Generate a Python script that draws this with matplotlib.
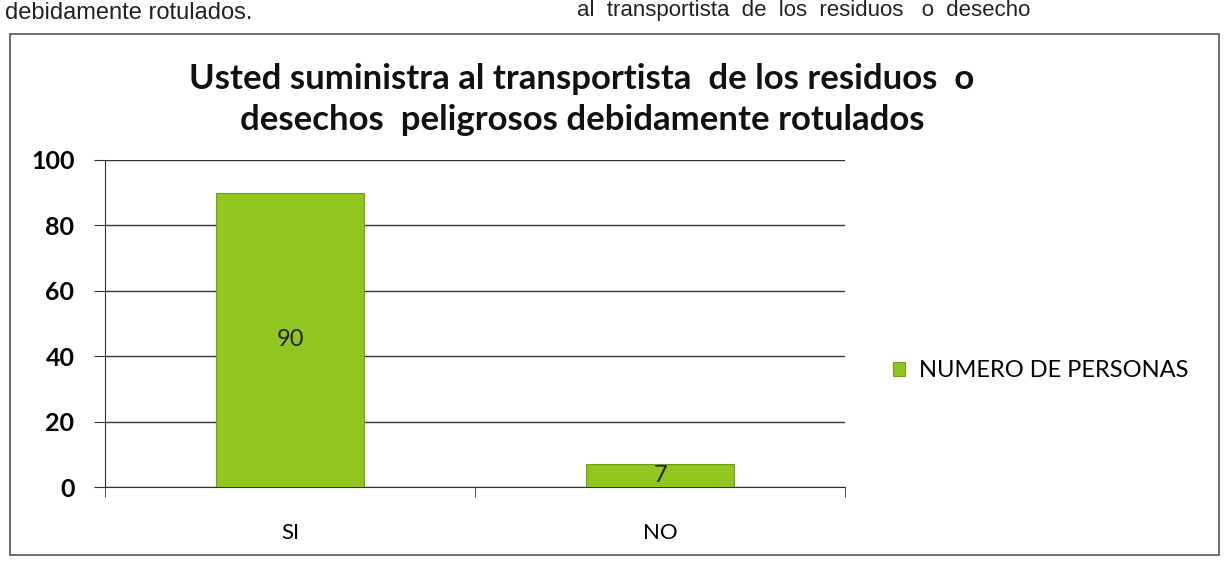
import matplotlib
matplotlib.use("Agg")
import matplotlib.pyplot as plt
from matplotlib.patches import Rectangle

categories = ["SI", "NO"]
values = [90, 7]
series_name = "NUMERO DE PERSONAS"
yticks = [0, 20, 40, 60, 80, 100]
title = "Usted suministra al transportista  de los residuos  o\ndesechos  peligrosos debidamente rotulados"

plt.rcParams['font.family'] = ['Lato', 'DejaVu Sans']

fig = plt.figure(figsize=(12.28, 5.69), dpi=100)
fig.patch.set_facecolor("white")

# page text fragments above the chart
fig.text(0.004, 0.978, "debidamente rotulados.", fontsize=17, family=['Liberation Sans'],
         va='center', ha='left', color='#222222')
fig.text(0.47, 0.982, "al  transportista  de  los  residuos   o  desecho", fontsize=16,
         family=['Liberation Sans'], va='center', ha='left', color='#222222')

# chart frame
fig.patches.append(Rectangle((0.008, 0.025), 0.985, 0.915, transform=fig.transFigure,
                             fill=False, edgecolor='#555555', linewidth=1.2))

ax = fig.add_axes([0.0855, 0.144, 0.603, 0.575])
x = list(range(len(categories)))
bars = ax.bar(x, values, width=0.4, color='#90c61f', edgecolor='#729e18', linewidth=0.8,
              label=series_name, zorder=3)
for xi, v in zip(x, values):
    ax.text(xi, v / 2, str(v), ha='center', va='center', fontsize=17, color='#222222', zorder=4)

ax.set_xlim(-0.5, 1.5)
ax.set_ylim(0, 100)
ax.set_yticks(yticks)
ax.set_yticklabels([str(t) for t in yticks], fontsize=18, fontweight='bold')
ax.yaxis.grid(True, color='#333333', linewidth=1.0, zorder=0)
ax.set_axisbelow(True)
ax.set_xticks(x)
ax.set_xticklabels(categories, fontsize=16)
ax.tick_params(axis='x', length=0, pad=26)
ax.set_xticks([-0.5, 0.5, 1.5], minor=True)
ax.tick_params(axis='x', which='minor', length=7, direction='out', color='#333333')
ax.tick_params(axis='y', length=8, direction='out', color='#333333', pad=14)
for s in ['top', 'right']:
    ax.spines[s].set_visible(False)
ax.spines['left'].set_color('#333333')
ax.spines['bottom'].set_color('#333333')

fig.text(0.474, 0.825, title, ha='center', va='center', fontsize=25, fontweight='bold',
         linespacing=1.35, color='#111111')

fig.legend(handles=[bars], labels=[series_name], loc='center left',
           bbox_to_anchor=(0.71, 0.348), frameon=False, fontsize=17,
           handlelength=0.5, handleheight=0.5, handletextpad=0.6)

fig.savefig("out.png", dpi=100)
